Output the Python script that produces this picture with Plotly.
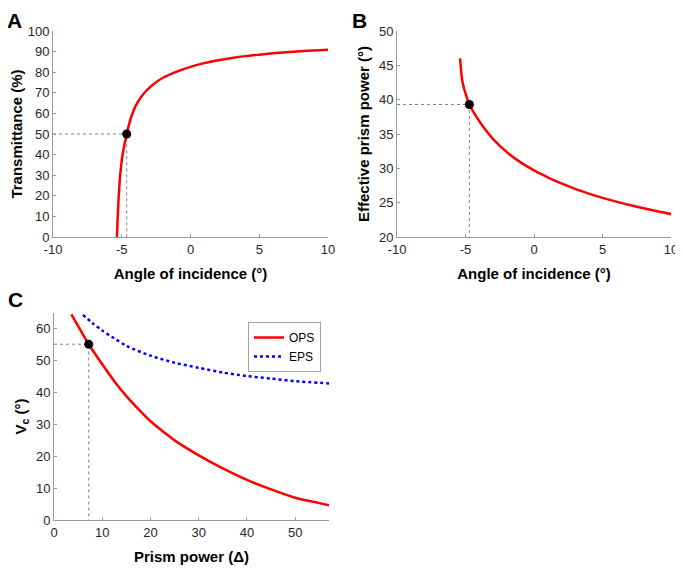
import plotly.graph_objects as go

# ---------------- data ----------------
# Panel A: transmittance vs angle of incidence
a_angle = [-5.35, -5.32, -5.28, -5.2, -5.1, -4.95, -4.64, -4.3, -4.0, -3.5, -3.0,
           -2.5, -2.0, -1.0, 0, 1, 2, 3, 4, 5, 6, 7, 8, 9, 10]
a_trans = [0, 5, 12, 22, 31, 39.5, 50, 58.5, 63.5, 68.8, 72.4,
           75.1, 77.3, 80.3, 82.6, 84.4, 85.8, 86.9, 87.8, 88.5, 89.15, 89.7, 90.15, 90.55, 90.9]
a_point = (-4.64, 50)

# Panel B: effective prism power vs angle of incidence
b_angle = [-5.4, -5.3, -5.2, -5.0, -4.72, -4.2, -3.5, -3.0, -2.0, -1.0, 0,
           1, 2, 3, 4, 5, 6, 7, 8, 9, 10]
b_power = [46.0, 43.8, 42.4, 40.9, 39.3, 37.5, 35.5, 34.3, 32.4, 30.9, 29.7,
           28.7, 27.8, 27.0, 26.32, 25.7, 25.15, 24.65, 24.18, 23.74, 23.33]
b_point = (-4.72, 39.3)

# Panel C: Vc vs prism power
ops_power = [3.6, 5, 7.2, 10, 12.5, 15, 17.5, 20, 22.5, 25, 30, 35, 40, 45, 50, 55, 57]
ops_vc = [64.6, 60.9, 55.2, 48.9, 43.6, 38.9, 34.8, 31.0, 27.9, 25.0, 20.3, 16.2,
          12.6, 9.6, 7.0, 5.3, 4.6]
eps_power = [6, 8, 10, 12, 15, 20, 25, 30, 35, 40, 45, 50, 57]
eps_vc = [64.4, 61.8, 59.5, 57.5, 54.7, 51.6, 49.4, 47.8, 46.3, 45.2, 44.4, 43.6, 42.9]
c_point = (7.2, 55.2)

ax_a_x = [-10, -5, 0, 5, 10]
ax_a_y = list(range(0, 101, 10))
ax_b_y = list(range(20, 51, 5))
ax_c_x = [0, 10, 20, 30, 40, 50]
ax_c_y = list(range(0, 61, 10))

# ---------------- styles ----------------
FONT = "Liberation Sans, Arial, Helvetica, sans-serif"
RED = "#ff0000"
BLUE = "#0000ff"
GUIDE = "#808080"
AXCOL = "#9a9a9a"
TXT = "#262626"
OFF = 8                      # default page body margin
W, H = 683 - OFF, 570 - OFF  # figure size so the page fits the window

def fx(px):
    return (px - OFF) / W

def fy(py):
    return 1 - (py - OFF) / H

fig = go.Figure()

def guides(x0, y0, px, py, xa, ya):
    fig.add_trace(go.Scatter(x=[x0, px, px], y=[py, py, y0], mode="lines",
                             line=dict(color=GUIDE, width=1, dash="dot"),
                             xaxis=xa, yaxis=ya, showlegend=False, hoverinfo="skip"))

def dot(px, py, xa, ya):
    fig.add_trace(go.Scatter(x=[px], y=[py], mode="markers",
                             marker=dict(color="black", size=9),
                             xaxis=xa, yaxis=ya, showlegend=False))

# Panel A
guides(-10, 0, a_point[0], a_point[1], "x", "y")
fig.add_trace(go.Scatter(x=a_angle, y=a_trans, mode="lines",
                         line=dict(color=RED, width=2.5, shape="spline", smoothing=0.8),
                         xaxis="x", yaxis="y", showlegend=False))
dot(a_point[0], a_point[1], "x", "y")

# Panel B
guides(-10, 20, b_point[0], b_point[1], "x2", "y2")
fig.add_trace(go.Scatter(x=b_angle, y=b_power, mode="lines",
                         line=dict(color=RED, width=2.5, shape="spline", smoothing=0.8),
                         xaxis="x2", yaxis="y2", showlegend=False))
dot(b_point[0], b_point[1], "x2", "y2")

# Panel C
guides(0, 0, c_point[0], c_point[1], "x3", "y3")
fig.add_trace(go.Scatter(x=ops_power, y=ops_vc, mode="lines", name="OPS",
                         line=dict(color=RED, width=2.5, shape="spline", smoothing=0.8),
                         xaxis="x3", yaxis="y3"))
fig.add_trace(go.Scatter(x=eps_power, y=eps_vc, mode="lines", name="EPS",
                         line=dict(color=BLUE, width=2.5, dash="dot", shape="spline", smoothing=0.8),
                         xaxis="x3", yaxis="y3"))
dot(c_point[0], c_point[1], "x3", "y3")

def ax(domain, rng, vals, title, anchor, standoff):
    return dict(domain=domain, range=rng, tickvals=vals,
                ticktext=[str(v) for v in vals],
                showline=True, linecolor=AXCOL, linewidth=1,
                ticks="inside", ticklen=3, tickcolor=AXCOL,
                showgrid=False, zeroline=False, anchor=anchor, automargin=False,
                tickfont=dict(family=FONT, size=13, color=TXT),
                title=dict(text=title, standoff=standoff,
                           font=dict(family=FONT, size=15, color="black", weight="bold")),
                fixedrange=True)

xA = [fx(53), fx(328)]
xB = [fx(397), fx(671)]
xC = [fx(54), fx(329)]
yAB = [fy(237), fy(31)]
yC = [fy(520), fy(313)]

fig.update_layout(
    width=W, height=H,
    margin=dict(l=0, r=0, t=0, b=0),
    paper_bgcolor="white", plot_bgcolor="white",
    font=dict(family=FONT, color=TXT),
    xaxis=ax(xA, [-10, 10], ax_a_x, "Angle of incidence (°)", "y", 12),
    yaxis=ax(yAB, [0, 100], ax_a_y, "Transmittance (%)", "x", 2),
    xaxis2=ax(xB, [-10, 10], ax_a_x, "Angle of incidence (°)", "y2", 12),
    yaxis2=ax(yAB, [20, 50], ax_b_y, "Effective prism power (°)", "x2", 5),
    xaxis3=ax(xC, [0, 57], ax_c_x, "Prism power (Δ)", "y3", 12),
    yaxis3=ax(yC, [0, 65], ax_c_y, "V<sub>c</sub> (°)", "x3", 5),
    legend=dict(x=fx(321), y=fy(322), xanchor="right", yanchor="top",
                bgcolor="white", bordercolor="#a0a0a0", borderwidth=1,
                font=dict(family=FONT, size=12, color="black"),
                itemwidth=30, tracegroupgap=0),
    showlegend=True,
)

for letter, px, py in [("A", 14, 8), ("B", 360, 8), ("C", 15, 287)]:
    fig.add_annotation(text=f"<b>{letter}</b>", x=fx(px), y=fy(py), xref="paper", yref="paper",
                       showarrow=False, xanchor="center", yanchor="top", borderpad=0,
                       font=dict(family=FONT, size=21, color="black"))

fig.write_html("out.html")
